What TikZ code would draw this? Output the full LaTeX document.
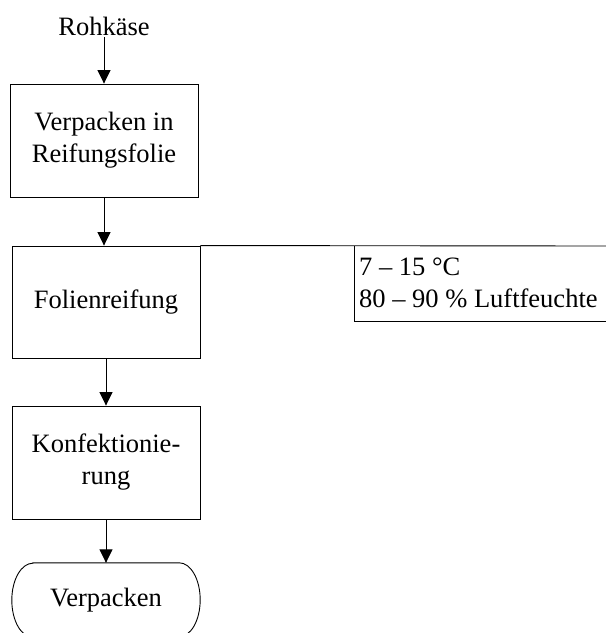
\documentclass[tikz,border=0pt]{standalone}
\usepackage{fontspec}
\setmainfont{Liberation Serif}
\usetikzlibrary{arrows.meta}
\begin{document}
\begin{tikzpicture}[x=1pt,y=-1pt,
  every node/.style={font=\fontsize{26.5}{32}\selectfont, inner sep=0pt},
  proc/.style={draw, line width=0.9pt, minimum width=188pt, align=center},
  flow/.style={line width=0.9pt, -{Triangle[width=13pt,length=13.5pt]}},
  plain/.style={line width=0.9pt}]
\useasboundingbox (0,0) rectangle (606,633);
\node (rk) at (104,26) {Rohkäse};
\node[proc, minimum height=113pt] (b1) at (104,140.5) {Verpacken in\\Reifungsfolie};
\node[proc, minimum height=112pt] (b2) at (106,302) {Folienreifung};
\node[proc, minimum height=113pt] (b3) at (106,462.5) {Konfektionie-\\rung};
\node[minimum width=188pt, minimum height=74pt] (t) at (106,600) {Verpacken};
\draw[plain] ([xshift=21pt]t.north west) -- ([xshift=-21pt]t.north east)
  arc[start angle=90, end angle=-90, x radius=21pt, y radius=37pt]
  -- ([xshift=21pt]t.south west)
  arc[start angle=270, end angle=90, x radius=21pt, y radius=37pt] -- cycle;
\node[align=left, anchor=base west] (ann) at (359,307) {7 -- 15 °C\\80 -- 90 \% Luftfeuchte};
\coordinate (r1) at (606,246);
\coordinate (al) at (354,246);
\coordinate (ab) at (354,321);
\coordinate (r2) at (606,321);
\draw[flow] (104,37) -- (b1.north);
\draw[flow] (b1.south) -- (b2.north -| b1.south);
\draw[flow] (b2.south) -- (b3.north);
\draw[flow] (b3.south) -- (t.north);
\draw[plain] (b2.north east) -- (r1);
\draw[plain] (al) -- (ab) -- (r2);
\end{tikzpicture}
\end{document}
